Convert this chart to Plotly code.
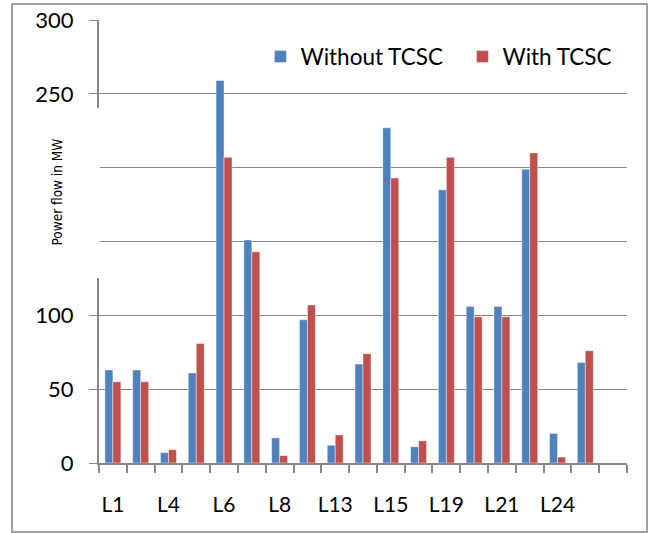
import plotly.graph_objects as go

# Data
line_labels = ["L1", "L4", "L6", "L8", "L13", "L15", "L19", "L21", "L24"]
without_tcsc = [63, 63, 7, 61, 259, 151, 17, 97, 12, 67, 227, 11, 185, 106, 106, 199, 20, 68]
with_tcsc = [55, 55, 9, 81, 207, 143, 5, 107, 19, 74, 193, 15, 207, 99, 99, 210, 4, 76]
y_ticks = [0, 50, 100, 150, 200, 250, 300]

positions = list(range(len(without_tcsc)))
label_positions = positions[::2][:len(line_labels)]
n_slots = len(positions) + 1  # one empty category slot at the end

FONT = "Lato, 'Open Sans', sans-serif"
GRAY = "#878787"

fig = go.Figure()
fig.add_trace(go.Bar(
    x=positions, y=without_tcsc, name="Without TCSC",
    marker=dict(color="#4F81BD", line=dict(color="rgba(255,255,255,0.55)", width=0.8)),
))
fig.add_trace(go.Bar(
    x=positions, y=with_tcsc, name="With TCSC",
    marker=dict(color="#C0504D", line=dict(color="rgba(255,255,255,0.55)", width=0.8)),
))

fig.update_layout(
    width=650, height=533,
    margin=dict(l=99, r=23, t=20, b=70, autoexpand=False),
    paper_bgcolor="white", plot_bgcolor="white",
    barmode="group", bargap=0.425, bargroupgap=0,
    font=dict(family=FONT, color="black"),
    showlegend=True,
    legend=dict(
        orientation="h", x=0.3057, y=0.9165, xanchor="left", yanchor="middle",
        font=dict(family=FONT, size=22.5, color="black"),
        bgcolor="rgba(0,0,0,0)", traceorder="normal",
        entrywidth=157, entrywidthmode="pixels",
    ),
    xaxis=dict(
        range=[-0.5, n_slots - 0.5], automargin=False,
        tickmode="array", tickvals=label_positions, ticktext=line_labels,
        ticks="", ticklabelstandoff=22,
        tickfont=dict(family=FONT, size=21, color="black"),
        showline=True, linecolor=GRAY, linewidth=2,
        showgrid=False, zeroline=False,
        minor=dict(
            tickmode="array", tickvals=[p - 0.5 for p in range(n_slots + 1)],
            ticks="outside", ticklen=8, tickwidth=2, tickcolor=GRAY, showgrid=False,
        ),
    ),
    yaxis=dict(
        range=[0, 300], automargin=False,
        tickmode="array", tickvals=y_ticks,
        ticks="outside", ticklen=8, tickwidth=1, tickcolor=GRAY,
        ticklabelstandoff=11,
        tickfont=dict(family=FONT, size=22, color="black"),
        showline=True, linecolor=GRAY, linewidth=2,
        showgrid=True, gridcolor=GRAY, gridwidth=1,
        zeroline=False,
    ),
    shapes=[
        # outer chart border
        dict(type="rect", xref="paper", yref="paper",
             x0=-0.1648, x1=1.0379, y0=-0.1558, y1=1.0361,
             line=dict(color="#A0A0A0", width=2), fillcolor="rgba(0,0,0,0)", layer="above"),
        # white patch over part of the value axis (as in the original image)
        dict(type="rect", xref="paper", yref="y",
             x0=-0.15, x1=0.0019, y0=125.3, y1=240.4,
             line=dict(width=0), fillcolor="white", layer="above"),
    ],
    annotations=[
        dict(text="Power flow in MW", xref="paper", yref="paper",
             x=-0.0814, y=0.6106, xanchor="center", yanchor="middle",
             textangle=-90, showarrow=False,
             font=dict(family="'DejaVu Sans Condensed', 'Liberation Sans Narrow', sans-serif",
                       size=13.5, color="black")),
    ],
)

fig.write_html("out.html", config={"displayModeBar": False},
               post_script="document.body.style.margin='0px';")
